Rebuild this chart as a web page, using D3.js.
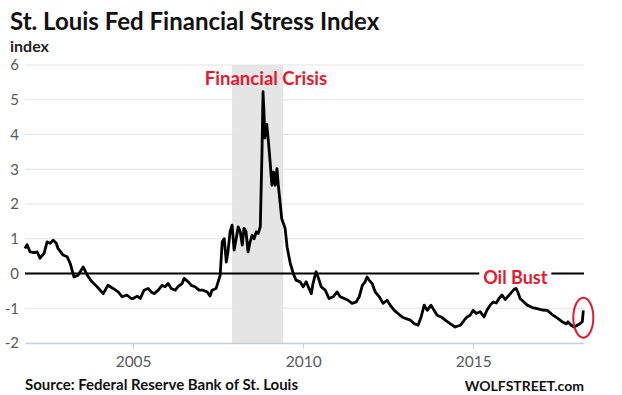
<!DOCTYPE html>
<html>
<head>
<meta charset="utf-8">
<script src="https://cdn.jsdelivr.net/npm/d3@7"></script>
<style>
  body { margin: 0; background: #fff; }
  svg { font-family: Lato, "Open Sans", sans-serif; }
</style>
</head>
<body>
<svg id="chart" width="622" height="395"></svg>
<script>
/********************************************************
 ********************* Data *****************************
 ********************************************************/
// decimal years
var dates = [
  2001.82, 2001.88, 2001.97, 2002.09, 2002.18, 2002.26, 2002.38, 2002.47, 2002.56, 2002.65,
  2002.74, 2002.79, 2002.94, 2003.06, 2003.15, 2003.26, 2003.38, 2003.53, 2003.65, 2003.79,
  2003.94, 2004.12, 2004.26, 2004.41, 2004.56, 2004.68, 2004.82, 2004.94, 2005.00, 2005.12,
  2005.21, 2005.32, 2005.44, 2005.53, 2005.62, 2005.74, 2005.85, 2005.94, 2006.03, 2006.12,
  2006.24, 2006.32, 2006.44, 2006.50, 2006.62, 2006.71, 2006.82, 2006.94, 2007.06, 2007.18,
  2007.26, 2007.32, 2007.44, 2007.50, 2007.56, 2007.62, 2007.68, 2007.74, 2007.79, 2007.85,
  2007.91, 2007.97, 2008.03, 2008.09, 2008.15, 2008.21, 2008.26, 2008.32, 2008.38, 2008.44,
  2008.50, 2008.56, 2008.62, 2008.68, 2008.74, 2008.79, 2008.82, 2008.85, 2008.87, 2008.90,
  2008.93, 2008.98, 2009.03, 2009.08, 2009.13, 2009.18, 2009.23, 2009.27, 2009.37, 2009.47,
  2009.53, 2009.62, 2009.71, 2009.79, 2009.91, 2010.00, 2010.09, 2010.15, 2010.24, 2010.29,
  2010.38, 2010.44, 2010.53, 2010.65, 2010.76, 2010.88, 2011.00, 2011.09, 2011.21, 2011.32,
  2011.44, 2011.56, 2011.65, 2011.74, 2011.82, 2011.88, 2011.94, 2012.03, 2012.12, 2012.24,
  2012.35, 2012.47, 2012.56, 2012.68, 2012.79, 2012.91, 2013.03, 2013.15, 2013.26, 2013.38,
  2013.47, 2013.56, 2013.65, 2013.76, 2013.85, 2013.94, 2014.06, 2014.18, 2014.32, 2014.47,
  2014.62, 2014.74, 2014.82, 2014.91, 2015.00, 2015.09, 2015.21, 2015.32, 2015.41, 2015.50,
  2015.59, 2015.68, 2015.76, 2015.85, 2015.94, 2016.03, 2016.12, 2016.21, 2016.26, 2016.32,
  2016.38, 2016.47, 2016.59, 2016.74, 2016.88, 2017.03, 2017.18, 2017.35, 2017.50, 2017.62,
  2017.74, 2017.79, 2017.88, 2017.97, 2018.06, 2018.15, 2018.21, 2018.24
];
var stress = [
  0.72, 0.83, 0.62, 0.60, 0.62, 0.44, 0.58, 0.91, 0.87, 0.96,
  0.87, 0.72, 0.53, 0.48, 0.29, -0.10, -0.05, 0.19, -0.05, -0.24,
  -0.38, -0.58, -0.34, -0.43, -0.53, -0.67, -0.62, -0.72, -0.72, -0.65,
  -0.72, -0.48, -0.43, -0.53, -0.58, -0.48, -0.34, -0.38, -0.29, -0.43,
  -0.48, -0.38, -0.29, -0.14, -0.24, -0.34, -0.38, -0.48, -0.48, -0.53,
  -0.65, -0.48, -0.43, -0.24, -0.05, 0.91, 1.00, 0.33, 0.62, 1.20,
  1.39, 0.67, 1.00, 1.34, 1.20, 0.82, 1.30, 1.20, 0.62, 0.91,
  1.10, 1.00, 1.20, 1.15, 1.35, 3.50, 5.23, 4.60, 3.90, 4.10,
  4.30, 3.79, 3.20, 2.54, 2.92, 2.54, 3.02, 2.54, 1.58, 1.30,
  0.75, 0.30, 0.00, -0.19, -0.24, -0.38, -0.24, -0.38, -0.58, -0.29,
  0.05, -0.10, -0.38, -0.48, -0.72, -0.67, -0.53, -0.67, -0.72, -0.77,
  -0.86, -0.82, -0.67, -0.34, -0.24, -0.10, -0.19, -0.29, -0.53, -0.67,
  -0.86, -0.77, -0.91, -1.06, -1.15, -1.25, -1.30, -1.34, -1.44, -1.49,
  -1.25, -0.91, -1.06, -0.91, -1.06, -1.20, -1.25, -1.34, -1.44, -1.54,
  -1.49, -1.34, -1.25, -1.20, -1.06, -1.15, -1.10, -1.25, -1.05, -0.91,
  -0.82, -0.85, -0.72, -0.62, -0.75, -0.65, -0.55, -0.45, -0.43, -0.55,
  -0.72, -0.80, -0.91, -0.98, -1.01, -1.05, -1.06, -1.20, -1.30, -1.39,
  -1.45, -1.39, -1.49, -1.54, -1.49, -1.44, -1.39, -1.06
];
var y_ticks = [-2, -1, 0, 1, 2, 3, 4, 5, 6];
var x_ticks = [2005, 2010, 2015];
var crisis_span = [2007.91, 2009.41];   // Dec 2007 - Jun 2009
var oil_bust_label = 2016.24;           // centre of "Oil Bust" label on the zero line
var spike_mark = [2018.24, -1.27];      // red ring at the end

/********************************************************
 ********************* Chart ****************************
 ********************************************************/
var svg = d3.select("#chart");

var x = d3.scaleLinear().domain([2001.82, 2018.26]).range([25, 584]),
    y = d3.scaleLinear().domain([-2, 6]).range([343, 65]);

var data = dates.map(function(d, i) { return {t: d, v: stress[i]}; });

// recession shading
svg.append("rect")
    .attr("x", x(crisis_span[0]))
    .attr("y", y(6))
    .attr("width", x(crisis_span[1]) - x(crisis_span[0]))
    .attr("height", y(-2) - y(6))
    .attr("fill", "#e5e5e5");

// gridlines
svg.append("g").selectAll("line")
    .data(y_ticks.filter(function(d) { return d != -2 && d != 0; }))
    .enter().append("line")
      .attr("x1", x.range()[0]).attr("x2", x.range()[1])
      .attr("y1", function(d) { return y(d); })
      .attr("y2", function(d) { return y(d); })
      .attr("stroke", "#e3e3e3")
      .attr("stroke-width", 1);

// y labels
svg.append("g").selectAll("text")
    .data(y_ticks)
    .enter().append("text")
      .attr("x", 19)
      .attr("y", function(d) { return y(d); })
      .attr("dy", "0.36em")
      .attr("text-anchor", "end")
      .attr("font-size", 15)
      .attr("fill", "#595959")
      .text(function(d) { return d; });

// x axis
var xAxis = svg.append("g")
    .attr("transform", "translate(0," + y(-2) + ")")
    .call(d3.axisBottom(x).tickValues(x_ticks).tickFormat(d3.format("d")).tickSize(6).tickSizeOuter(0));
xAxis.select(".domain").attr("stroke", "#c5cbe0").attr("stroke-width", 1.5);
xAxis.selectAll(".tick line").attr("stroke", "#c5cbe0");
xAxis.selectAll(".tick text")
    .attr("font-family", "Lato, sans-serif")
    .attr("font-size", 15.5)
    .attr("fill", "#595959")
    .attr("dy", "0.95em");

// zero line
svg.append("line")
    .attr("x1", x.range()[0]).attr("x2", x.range()[1])
    .attr("y1", y(0)).attr("y2", y(0))
    .attr("stroke", "#000")
    .attr("stroke-width", 2);

// series
var line = d3.line()
    .x(function(d) { return x(d.t); })
    .y(function(d) { return y(d.v); });

svg.append("path")
    .datum(data)
    .attr("d", line)
    .attr("fill", "none")
    .attr("stroke", "#000")
    .attr("stroke-width", 2.8)
    .attr("stroke-linejoin", "round");

// annotations
svg.append("text")
    .attr("x", 266)
    .attr("y", 85)
    .attr("text-anchor", "middle")
    .attr("font-size", 18.5)
    .attr("font-weight", "bold")
    .attr("fill", "#e8192c")
    .text("Financial Crisis");

var oil = svg.append("g");
oil.append("rect")
    .attr("x", x(oil_bust_label) - 36)
    .attr("y", y(0) - 8)
    .attr("width", 72)
    .attr("height", 16)
    .attr("fill", "#fff");
oil.append("text")
    .attr("x", x(oil_bust_label))
    .attr("y", 284)
    .attr("text-anchor", "middle")
    .attr("font-size", 18)
    .attr("font-weight", "bold")
    .attr("fill", "#e8192c")
    .text("Oil Bust");

svg.append("ellipse")
    .attr("cx", x(spike_mark[0]))
    .attr("cy", y(spike_mark[1]))
    .attr("rx", 10)
    .attr("ry", 20)
    .attr("fill", "none")
    .attr("stroke", "#e8192c")
    .attr("stroke-width", 2);

// titles
svg.append("text")
    .attr("x", 10).attr("y", 30)
    .attr("font-size", 24)
    .attr("font-weight", "bold")
    .attr("fill", "#111")
    .text("St. Louis Fed Financial Stress Index");

svg.append("text")
    .attr("x", 10).attr("y", 52)
    .attr("font-size", 16)
    .attr("font-weight", "bold")
    .attr("fill", "#222")
    .text("index");

svg.append("text")
    .attr("x", 25).attr("y", 390)
    .attr("font-size", 15)
    .attr("font-weight", "bold")
    .attr("fill", "#111")
    .text("Source: Federal Reserve Bank of St. Louis");

svg.append("text")
    .attr("x", 584).attr("y", 391)
    .attr("text-anchor", "end")
    .attr("font-size", 14)
    .attr("font-weight", "bold")
    .attr("fill", "#111")
    .text("WOLFSTREET.com");
</script>
</body>
</html>
